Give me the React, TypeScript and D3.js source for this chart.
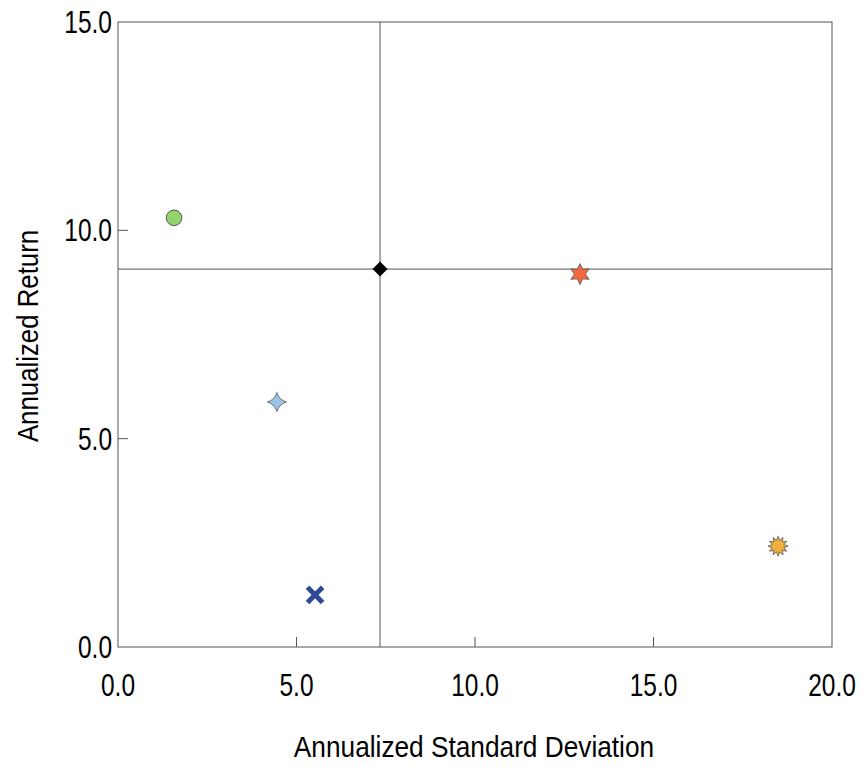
import React from "react";
import * as d3 from "d3";

const names = ["A", "B", "C", "Benchmark", "D", "E"];
const stdDev = [1.57, 4.45, 5.52, 7.34, 12.94, 18.49];
const returns = [10.3, 5.88, 1.25, 9.07, 8.95, 2.42];
const shapes = ["circle", "star4", "cross", "diamond", "star6", "burst"];
const colors = ["#92d36e", "#9dc3e6", "#2e4a94", "#000000", "#f4683f", "#f0b040"];
const xTicks = [0, 5, 10, 15, 20];
const yTicks = [0, 5, 10, 15];

const W = 860, H = 767;
const L = 118, R = 832, T = 22, B = 647;
const FONT = "'Liberation Sans', Arial, sans-serif";

function starPath(n: number, outer: number, inner: number) {
  const pts: [number, number][] = [];
  for (let i = 0; i < n * 2; i++) {
    const r = i % 2 === 0 ? outer : inner;
    const a = (Math.PI * i) / n - Math.PI / 2;
    pts.push([r * Math.cos(a), r * Math.sin(a)]);
  }
  return "M" + pts.map((p) => p.join(",")).join("L") + "Z";
}

function markerPath(shape: string) {
  switch (shape) {
    case "star4": {
      const o = 9.5, c = 2.2;
      return `M0,${-o} Q${c},${-c} ${o},0 Q${c},${c} 0,${o} Q${-c},${c} ${-o},0 Q${-c},${-c} 0,${-o}Z`;
    }
    case "diamond":
      return "M0,-7.5L7.5,0L0,7.5L-7.5,0Z";
    case "star6":
      return starPath(6, 10.5, 5.5);
    case "burst":
      return starPath(12, 10, 6);
    default:
      return "";
  }
}

export default function App() {
  const x = d3.scaleLinear().domain([0, 20]).range([L, R]);
  const y = d3.scaleLinear().domain([0, 15]).range([B, T]);
  const bi = names.indexOf("Benchmark");
  const bx = x(stdDev[bi]);
  const by = y(returns[bi]);

  return (
    <svg width={W} height={H} style={{ position: "absolute", left: 0, top: 0 }}>
      <rect x={0} y={0} width={W} height={H} fill="#fff" />
      <rect x={L} y={T} width={R - L} height={B - T} fill="none" stroke="#555" strokeWidth={1} />
      {xTicks.slice(1, -1).map((t) => (
        <line key={"xt" + t} x1={x(t)} x2={x(t)} y1={B} y2={B - 10} stroke="#555" />
      ))}
      {yTicks.slice(1, -1).map((t) => (
        <line key={"yt" + t} x1={L} x2={L + 10} y1={y(t)} y2={y(t)} stroke="#555" />
      ))}
      <line x1={bx} x2={bx} y1={T} y2={B} stroke="#555" strokeWidth={1} />
      <line x1={L} x2={R} y1={by} y2={by} stroke="#555" strokeWidth={1} />
      {xTicks.map((t) => (
        <text
          key={"xl" + t}
          transform={`translate(${x(t)},696) scale(0.79,1)`}
          textAnchor="middle"
          fontFamily={FONT}
          fontSize={31}
          fill="#000"
        >
          {t.toFixed(1)}
        </text>
      ))}
      {yTicks.map((t) => (
        <text
          key={"yl" + t}
          transform={`translate(112,${y(t) + 11}) scale(0.79,1)`}
          textAnchor="end"
          fontFamily={FONT}
          fontSize={31}
          fill="#000"
        >
          {t.toFixed(1)}
        </text>
      ))}
      <text
        transform="translate(474,757) scale(0.875,1)"
        textAnchor="middle"
        fontFamily={FONT}
        fontSize={30}
        fill="#000"
      >
        Annualized Standard Deviation
      </text>
      <text
        transform="translate(38,336) rotate(-90) scale(0.86,1)"
        textAnchor="middle"
        fontFamily={FONT}
        fontSize={30}
        fill="#000"
      >
        Annualized Return
      </text>
      {names.map((n, i) => {
        const cx = x(stdDev[i]);
        const cy = y(returns[i]);
        if (shapes[i] === "circle") {
          return <circle key={n} cx={cx} cy={cy} r={7.8} fill={colors[i]} stroke="#555" strokeWidth={1} />;
        }
        if (shapes[i] === "cross") {
          return (
            <path
              key={n}
              d="M-5.8,-5.8L5.8,5.8M-5.8,5.8L5.8,-5.8"
              transform={`translate(${cx},${cy})`}
              stroke={colors[i]}
              strokeWidth={5}
              strokeLinecap="square"
              fill="none"
            />
          );
        }
        return (
          <path
            key={n}
            d={markerPath(shapes[i])}
            transform={`translate(${cx},${cy})`}
            fill={colors[i]}
            stroke={shapes[i] === "diamond" ? "none" : "#555"}
            strokeWidth={0.8}
          />
        );
      })}
    </svg>
  );
}
